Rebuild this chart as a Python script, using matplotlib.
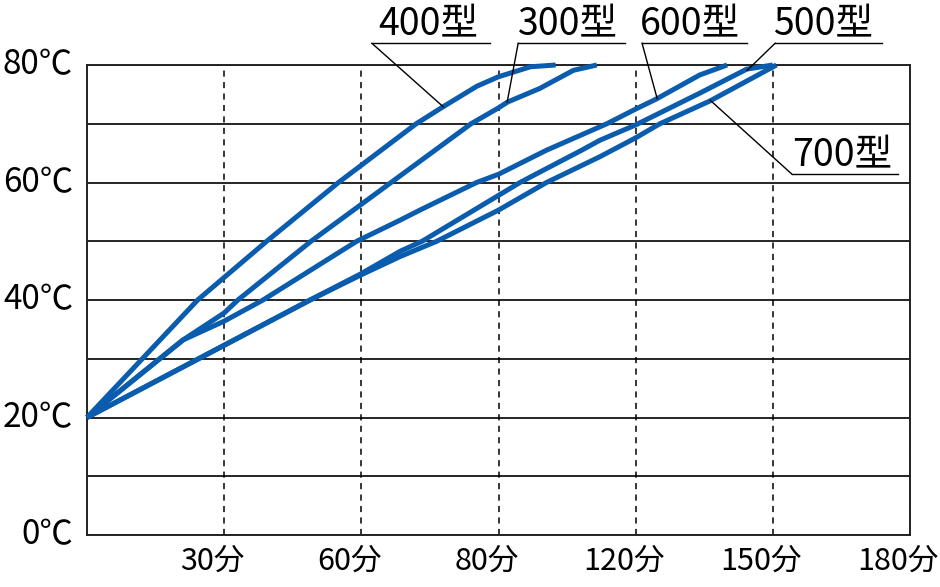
import numpy as np
import matplotlib
matplotlib.use('Agg')
from matplotlib import pyplot as plt
from matplotlib.transforms import ScaledTranslation

plt.rcParams['font.family'] = ['Noto Sans CJK JP', 'DejaVu Sans']

# heating curves, time in minutes, temperature in degC
t400 = [0, 24.2, 39.3, 55, 72, 77.9, 85.3, 90, 97, 102.5]
y400 = [20, 40, 50, 60, 70, 72.9, 76.4, 78, 79.7, 80]

t300 = [0, 21, 30, 33, 49, 66.5, 84, 90, 92, 99, 106.4, 111.5]
y300 = [20, 33.2, 37.8, 40, 50, 60, 70, 72.7, 73.7, 76.0, 79.1, 80]

t600 = [0, 21, 30, 38.5, 59, 68.5, 72.8, 85.2, 90, 100.5, 113.7, 120, 124.5, 134, 140]
y600 = [20, 33.2, 36.4, 40, 50, 53.6, 55.3, 60, 61.4, 65.5, 70, 72.5, 74.2, 78.3, 80]

t500 = [0, 48.8, 60, 68.5, 73.3, 94.7, 99.1, 108.2, 112.2, 120, 134, 144.3, 150]
y500 = [20, 40, 44.5, 48.3, 50, 60, 61.8, 65.5, 67.2, 69.8, 75.2, 79.3, 80]

t700 = [0, 48.8, 60, 68.5, 76.5, 90, 100.5, 112.2, 120, 125.3, 136.3, 150.8]
y700 = [20, 40, 44.3, 47.4, 50, 55.3, 60, 64.4, 67.6, 70, 73.9, 80]

xticks = [30, 60, 90, 120, 150, 180]
xlabels = ['30分', '60分', '80分', '120分', '150分', '180分']
yticks = [0, 20, 40, 60, 80]
ylabels = ['0℃', '20℃', '40℃', '60℃', '80℃']
yminor = [10, 30, 50, 70]

names = ['400型', '300型', '600型', '500型', '700型']

blue = '#0a5cae'

fig = plt.figure(figsize=(9.4, 5.87), dpi=100)
ax = fig.add_axes([87/940, 1-535/587, (910-87)/940, (535-65)/587])
ax.set_xlim(0, 180)
ax.set_ylim(0, 80)

for t, y in [(t400, y400), (t300, y300), (t600, y600), (t500, y500), (t700, y700)]:
    ax.plot(t, y, color=blue, lw=3.6, solid_joinstyle='round', solid_capstyle='butt', zorder=3, clip_on=False)

ax.set_xticks(xticks)
ax.set_xticklabels(xlabels, fontsize=22)
ax.set_yticks(yticks)
ax.set_yticklabels(ylabels, fontsize=24)
ax.set_yticks(yminor, minor=True)
ax.tick_params(axis='both', which='both', length=0)
ax.tick_params(axis='x', pad=8)
ax.tick_params(axis='y', pad=10)
for lab in ax.get_xticklabels():
    lab.set_transform(lab.get_transform() + ScaledTranslation(-12/100, 0, fig.dpi_scale_trans))
for lab in ax.get_yticklabels():
    lab.set_transform(lab.get_transform() + ScaledTranslation(0, 4/100, fig.dpi_scale_trans))

ax.grid(axis='y', which='both', color='black', lw=1.2, ls='-')
ax.grid(axis='x', which='major', color='black', lw=1.1, ls=(0, (4, 3.5)))
ax.set_axisbelow(True)
for s in ax.spines.values():
    s.set_linewidth(1.4)
    s.set_color('#222222')

# labels with leader lines: (text x, baseline y, underline x0, x1, underline y, curve x, curve y)
callouts = [
    (74.6, 85.1, 62.3, 88.1, 83.7, 77.9, 72.9),
    (105.2, 85.1, 94.3, 117.7, 83.7, 91.9, 73.7),
    (131.9, 85.1, 121.4, 144.4, 83.7, 124.7, 74.3),
    (161.0, 85.1, 150.5, 173.9, 83.7, 144.4, 79.1),
    (165.1, 62.7, 154.2, 177.4, 61.4, 136.3, 74.0),
]
for name, (tx, ty, u0, u1, uy, cx, cy) in zip(names, callouts):
    ax.text(tx, ty, name, fontsize=27, ha='center', va='baseline', clip_on=False, zorder=5)
    ax.plot([u0, u1], [uy, uy], color='black', lw=1.0, clip_on=False, zorder=4)
    ax.plot([u0, cx], [uy, cy], color='black', lw=1.0, clip_on=False, zorder=4)

fig.savefig('out.png', dpi=100)
